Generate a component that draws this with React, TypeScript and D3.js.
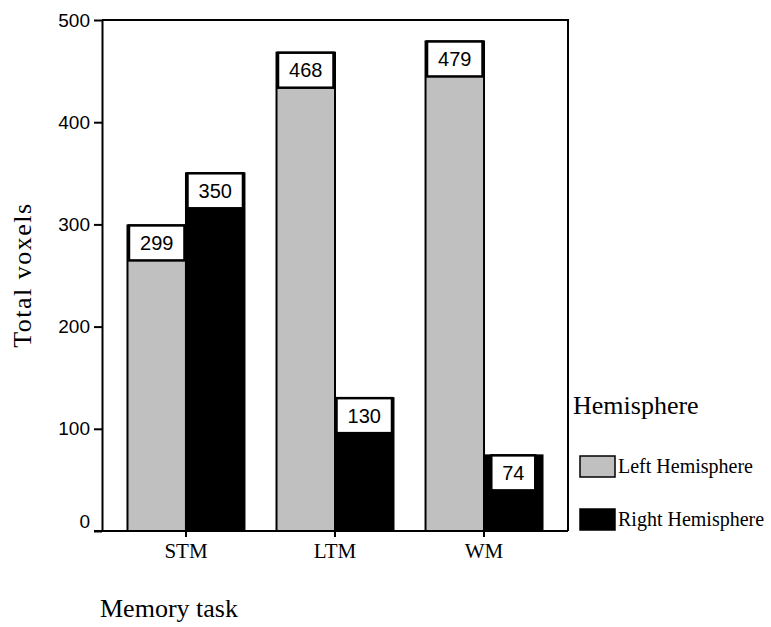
import React, { useEffect, useRef } from 'react';
import * as d3 from 'd3';

const tasks = ['STM', 'LTM', 'WM'];
const hemispheres = ['Left Hemisphere', 'Right Hemisphere'];
const leftValues = [299, 468, 479];
const rightValues = [350, 130, 74];
const yTicks = [0, 100, 200, 300, 400, 500];

const colors: Record<string, string> = {
  'Left Hemisphere': '#c0c0c0',
  'Right Hemisphere': '#000000'
};

const serif = '"Liberation Serif", "Times New Roman", serif';
const sans = '"Liberation Sans", Arial, sans-serif';

const App: React.FC = () => {
  const svgRef = useRef<SVGSVGElement>(null);
  const width = 771;
  const height = 627;

  useEffect(() => {
    document.body.style.margin = '0';
    if (!svgRef.current) return;
    const svg = d3.select(svgRef.current);
    svg.selectAll('*').remove();

    const left = 102, right = 568, top = 20, bottom = 531;

    const x0 = d3.scaleBand().domain(tasks).range([left, right])
      .paddingInner(0.215).paddingOuter(0.171);
    const x1 = d3.scaleBand().domain(hemispheres).range([0, x0.bandwidth()]);
    const y = d3.scaleLinear().domain([0, 500]).range([bottom, top]);

    const rows = tasks.map((t, i) => ({
      task: t,
      values: [
        { key: hemispheres[0], value: leftValues[i] },
        { key: hemispheres[1], value: rightValues[i] }
      ]
    }));

    // bars
    const groups = svg.append('g').selectAll('g')
      .data(rows).enter().append('g')
      .attr('transform', d => `translate(${x0(d.task)},0)`);

    groups.selectAll('rect.bar')
      .data(d => d.values).enter().append('rect')
      .attr('class', 'bar')
      .attr('x', d => x1(d.key)!)
      .attr('y', d => y(d.value))
      .attr('width', x1.bandwidth())
      .attr('height', d => bottom - y(d.value))
      .attr('fill', d => colors[d.key])
      .attr('stroke', '#000')
      .attr('stroke-width', 2);

    // value label boxes
    const boxH = 35;
    const labels = groups.selectAll('g.lbl')
      .data(d => d.values).enter().append('g')
      .attr('class', 'lbl');

    labels.append('rect')
      .attr('x', d => {
        const w = String(d.value).length > 2 ? x1.bandwidth() - 3 : 44;
        return x1(d.key)! + (x1.bandwidth() - w) / 2;
      })
      .attr('y', d => y(d.value))
      .attr('width', d => String(d.value).length > 2 ? x1.bandwidth() - 3 : 44)
      .attr('height', boxH)
      .attr('fill', '#fff')
      .attr('stroke', '#000')
      .attr('stroke-width', 2.5);

    labels.append('text')
      .attr('x', d => x1(d.key)! + x1.bandwidth() / 2)
      .attr('y', d => y(d.value) + boxH / 2 + 7)
      .attr('text-anchor', 'middle')
      .style('font-family', sans)
      .style('font-size', '20px')
      .attr('fill', '#000')
      .text(d => d.value);

    // frame
    svg.append('path')
      .attr('d', `M${left},${top}H${right}V${bottom}`)
      .attr('fill', 'none')
      .attr('stroke', '#000')
      .attr('stroke-width', 2);

    // y axis
    const yAxis = svg.append('g')
      .attr('transform', `translate(${left},0)`)
      .call(d3.axisLeft(y).tickValues(yTicks).tickSize(8).tickPadding(4).tickSizeOuter(0));
    yAxis.select('.domain').attr('stroke-width', 2);
    yAxis.selectAll('.tick line').attr('stroke-width', 2);
    yAxis.selectAll('.tick text')
      .style('font-family', sans)
      .style('font-size', '19px')
      .attr('fill', '#000')
      .attr('dy', d => (d === 0 ? '-0.2em' : '0.32em'));

    // x axis
    const xAxis = svg.append('g')
      .attr('transform', `translate(0,${bottom})`)
      .call(d3.axisBottom(x0).tickSize(6).tickPadding(6).tickSizeOuter(0));
    xAxis.select('.domain').attr('stroke-width', 2)
      .attr('d', `M${left - 8},0H${right}`);
    xAxis.selectAll('.tick line').attr('stroke-width', 2);
    xAxis.selectAll('.tick text')
      .style('font-family', serif)
      .style('font-size', '21px')
      .attr('fill', '#000');

    // axis titles
    svg.append('text')
      .attr('transform', `translate(31,${(202 + 348) / 2}) rotate(-90)`)
      .attr('text-anchor', 'middle')
      .style('font-family', serif)
      .style('font-size', '26px')
      .style('letter-spacing', '1.5px')
      .attr('fill', '#000')
      .text('Total voxels');

    svg.append('text')
      .attr('x', 100)
      .attr('y', 617)
      .style('font-family', serif)
      .style('font-size', '26px')
      .attr('fill', '#000')
      .text('Memory task');

    // legend
    svg.append('text')
      .attr('x', 573)
      .attr('y', 414)
      .style('font-family', serif)
      .style('font-size', '26px')
      .attr('fill', '#000')
      .text('Hemisphere');

    const legend = svg.append('g').selectAll('g')
      .data(hemispheres).enter().append('g')
      .attr('transform', (d, i) => `translate(580,${456 + i * 53})`);

    legend.append('rect')
      .attr('width', 35)
      .attr('height', 21)
      .attr('fill', d => colors[d])
      .attr('stroke', '#000')
      .attr('stroke-width', 1.5);

    legend.append('text')
      .attr('x', 38)
      .attr('y', 17)
      .style('font-family', serif)
      .style('font-size', '20px')
      .attr('fill', '#000')
      .text(d => d);
  }, []);

  return (
    <svg ref={svgRef} width={width} height={height} style={{ display: 'block', background: '#fff' }} />
  );
};

export default App;
